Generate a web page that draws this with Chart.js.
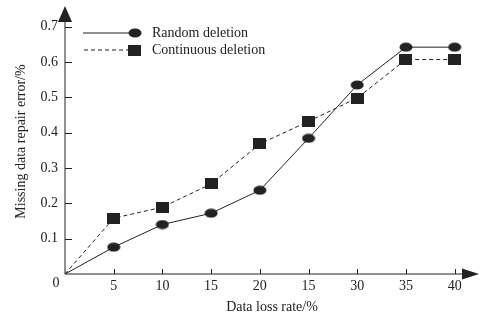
<!DOCTYPE html>
<html>
<head>
<meta charset="utf-8">
<script src="https://cdn.jsdelivr.net/npm/chart.js@4.4.1/dist/chart.umd.min.js"></script>
<style>
  html, body { margin: 0; padding: 0; background: #fff; }
  #wrap { width: 500px; height: 326px; }
</style>
</head>
<body>
<div id="wrap"><canvas id="chart"></canvas></div>
<script>
// data
const lossRates = [0, 5, 10, 15, 20, 25, 30, 35, 40];
const randomDeletion = [0, 0.076, 0.14, 0.172, 0.237, 0.384, 0.535, 0.642, 0.642];
const continuousDeletion = [0, 0.158, 0.189, 0.255, 0.368, 0.432, 0.498, 0.607, 0.607];
const xTicks = [5, 10, 15, 20, 25, 30, 35, 40];
const xTickLabels = ["5", "10", "15", "20", "15", "30", "35", "40"]; // as printed in the figure
const yTicks = [0.1, 0.2, 0.3, 0.4, 0.5, 0.6, 0.7];

const ink = "#222";
const serif = "'Liberation Serif', 'DejaVu Serif', serif";

function ellipseMarker() {
    const c = document.createElement("canvas");
    c.width = 14; c.height = 10;
    const g = c.getContext("2d");
    g.fillStyle = ink;
    g.beginPath();
    g.ellipse(7, 5, 6.5, 4.5, 0, 0, Math.PI * 2);
    g.fill();
    return c;
}
function squareMarker() {
    const c = document.createElement("canvas");
    c.width = 13; c.height = 11;
    const g = c.getContext("2d");
    g.fillStyle = ink;
    g.fillRect(0, 0, 13, 11);
    return c;
}
const dot = ellipseMarker();
const square = squareMarker();

function toPoints(values) {
    return lossRates.map((x, i) => ({ x: x, y: values[i] }));
}

const axesPlugin = {
    id: "axesPlugin",
    afterDraw(chart) {
        const ctx = chart.ctx;
        const xs = chart.scales.x, ys = chart.scales.y;
        const a = chart.chartArea;
        const x0 = xs.getPixelForValue(0), y0 = ys.getPixelForValue(0);
        ctx.save();
        ctx.strokeStyle = ink;
        ctx.fillStyle = ink;
        ctx.lineWidth = 1;
        // axis lines
        ctx.beginPath();
        ctx.moveTo(x0, y0); ctx.lineTo(a.right - 10, y0);
        ctx.moveTo(x0, y0); ctx.lineTo(x0, a.top + 10);
        ctx.stroke();
        // arrows
        ctx.beginPath();
        ctx.moveTo(a.right, y0); ctx.lineTo(a.right - 17, y0 - 5.5); ctx.lineTo(a.right - 17, y0 + 5.5);
        ctx.closePath(); ctx.fill();
        ctx.beginPath();
        ctx.moveTo(x0, a.top - 3); ctx.lineTo(x0 - 7, a.top + 13); ctx.lineTo(x0 + 7, a.top + 13);
        ctx.closePath(); ctx.fill();
        // inward ticks
        ctx.beginPath();
        yTicks.forEach(v => {
            const y = Math.round(ys.getPixelForValue(v)) + 0.5;
            ctx.moveTo(x0, y); ctx.lineTo(x0 + 7, y);
        });
        xTicks.forEach(v => {
            const x = Math.round(xs.getPixelForValue(v)) + 0.5;
            ctx.moveTo(x, y0); ctx.lineTo(x, y0 - 5);
        });
        ctx.stroke();
        // origin label
        ctx.font = "14px " + serif;
        ctx.textAlign = "center";
        ctx.textBaseline = "middle";
        ctx.fillText("0", x0 - 9, y0 + 9);
        // legend
        const items = [
            { label: "Random deletion", dash: [], img: dot, y: 33, x1: 83, mx: 135 },
            { label: "Continuous deletion", dash: [4, 3], img: square, y: 50, x1: 84, mx: 134 }
        ];
        ctx.textAlign = "left";
        items.forEach(it => {
            ctx.setLineDash(it.dash);
            ctx.beginPath();
            ctx.moveTo(it.x1, it.y); ctx.lineTo(it.mx, it.y);
            ctx.stroke();
            ctx.setLineDash([]);
            ctx.drawImage(it.img, it.mx - it.img.width / 2, it.y - it.img.height / 2);
            ctx.fillText(it.label, 152, it.y);
        });
        ctx.restore();
    }
};

new Chart(document.getElementById("chart"), {
    type: "line",
    data: {
        datasets: [
            {
                label: "Random deletion",
                data: toPoints(randomDeletion),
                borderColor: ink,
                borderWidth: 1,
                pointStyle: lossRates.map((x, i) => i === 0 ? false : dot),
                fill: false,
                tension: 0
            },
            {
                label: "Continuous deletion",
                data: toPoints(continuousDeletion),
                borderColor: ink,
                borderWidth: 1,
                borderDash: [4, 3],
                pointStyle: lossRates.map((x, i) => i === 0 ? false : square),
                fill: false,
                tension: 0
            }
        ]
    },
    options: {
        responsive: true,
        maintainAspectRatio: false,
        animation: false,
        layout: { padding: { top: 9, right: 21, left: 0, bottom: 0 } },
        plugins: { legend: { display: false }, tooltip: { enabled: false } },
        scales: {
            x: {
                type: "linear",
                min: 0,
                max: 42.5,
                afterFit: s => { s.height = 52; s.paddingLeft = 0; s.paddingRight = 0; },
                afterBuildTicks: s => { s.ticks = xTicks.map(v => ({ value: v })); },
                grid: { display: false, drawTicks: false },
                border: { display: false },
                ticks: {
                    padding: 4,
                    color: ink,
                    font: { family: serif, size: 14 },
                    maxRotation: 0,
                    autoSkip: false,
                    callback: (v) => xTickLabels[xTicks.indexOf(v)]
                },
                title: {
                    display: true,
                    text: "Data loss rate/%",
                    color: ink,
                    font: { family: serif, size: 14 },
                    padding: { top: 0, bottom: 10 }
                }
            },
            y: {
                min: 0,
                max: 0.75,
                afterFit: s => { s.width = 65; s.paddingTop = 0; s.paddingBottom = 0; },
                afterBuildTicks: s => { s.ticks = yTicks.map(v => ({ value: v })); },
                grid: { display: false, drawTicks: false },
                border: { display: false },
                ticks: {
                    padding: 7,
                    color: ink,
                    font: { family: serif, size: 14 },
                    callback: v => v.toFixed(1)
                },
                title: {
                    display: true,
                    text: "Missing data repair error/%",
                    color: ink,
                    font: { family: serif, size: 14 },
                    padding: { top: 13, bottom: 0 }
                }
            }
        }
    },
    plugins: [axesPlugin]
});
</script>
</body>
</html>
